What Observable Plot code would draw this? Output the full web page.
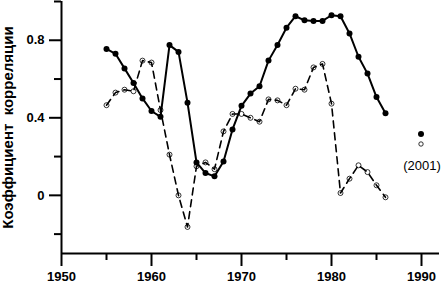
<!DOCTYPE html>
<html><head><meta charset="utf-8">
<script src="https://cdn.jsdelivr.net/npm/d3@7"></script>
<script src="https://cdn.jsdelivr.net/npm/@observablehq/plot@0.6"></script>
<style>
body{margin:0;background:#fff;}
#wrap{position:relative;width:442px;height:286px;}
#legend{position:absolute;left:0;top:0;pointer-events:none;}
</style></head><body><div id="wrap"></div>
<script>
const years = [1955,1956,1957,1958,1959,1960,1961,1962,1963,1964,1965,1966,1967,1968,1969,1970,
  1971,1972,1973,1974,1975,1976,1977,1978,1979,1980,1981,1982,1983,1984,1985,1986];
const seriesSolid = [0.755,0.73,0.655,0.58,0.50,0.435,0.405,0.775,0.74,0.478,0.17,0.115,0.098,0.175,0.34,0.462,
  0.525,0.563,0.695,0.776,0.865,0.924,0.903,0.90,0.90,0.929,0.924,0.835,0.715,0.628,0.507,0.423];
const seriesDashed = [0.465,0.53,0.545,0.537,0.695,0.685,0.44,0.21,0.0,-0.163,0.15,0.17,0.135,0.33,0.42,0.42,
  0.40,0.38,0.495,0.49,0.465,0.55,0.545,0.66,0.678,0.473,0.012,0.086,0.155,0.12,0.052,-0.01];
const xDomain = [1950, 1992];
const yDomain = [-0.3, 1.0];
const xMajorTicks = [1950,1960,1970,1980,1990];
const xMinorTicks = [1955,1965,1975,1985];
const yMajorTicks = [0, 0.4, 0.8];
const yMinorTicks = [-0.2, 0.2, 0.6, 1.0];
const yLabel = "Коэффициент  корреляции";
const legendLabel = "(2001)";

const solid = years.map((y, i) => ({year: y, r: seriesSolid[i]}));
const dashed = years.map((y, i) => ({year: y, r: seriesDashed[i]}));

const plot = Plot.plot({
  width: 442, height: 286,
  marginLeft: 61, marginRight: 3, marginTop: 1, marginBottom: 33,
  style: {fontFamily: "'Liberation Sans', Arial, sans-serif", fontSize: "13px", fontWeight: "bold", color: "#000", background: "#fff"},
  x: {domain: xDomain},
  y: {domain: yDomain},
  marks: [
    Plot.axisX(xMajorTicks, {tickSize: 13, tickPadding: 5, tickFormat: d => String(d), label: null, strokeWidth: 2}),
    Plot.axisX(xMinorTicks, {tickSize: 7, tickFormat: () => "", label: null, strokeWidth: 2}),
    Plot.axisY(yMajorTicks, {tickSize: 12, tickPadding: 5, tickFormat: d => d === 0 ? "0" : d.toFixed(1), label: null, strokeWidth: 2}),
    Plot.axisY(yMinorTicks, {tickSize: 7, tickFormat: () => "", label: null, strokeWidth: 2}),
    Plot.ruleY([yDomain[0]], {strokeWidth: 2}),
    Plot.ruleX([xDomain[0]], {strokeWidth: 2}),
    Plot.text([yLabel], {frameAnchor: "left", textAnchor: "middle", rotate: -90, dx: -53, dy: 0, fontSize: 15, fontWeight: "bold", style: {whiteSpace: "pre"}}),
    Plot.line(dashed, {x: "year", y: "r", stroke: "black", strokeWidth: 1.6, strokeDasharray: "7,5"}),
    Plot.dot(dashed, {x: "year", y: "r", r: 2.5, stroke: "black", strokeWidth: 0.8, fill: "none"}),
    Plot.line(solid, {x: "year", y: "r", stroke: "black", strokeWidth: 2}),
    Plot.dot(solid, {x: "year", y: "r", r: 3, fill: "black", stroke: "none"})
  ]
});
const wrap = document.getElementById("wrap");
wrap.appendChild(plot);
plot.querySelectorAll("text").forEach(t => { if (t.textContent.includes("  ")) t.setAttribute("xml:space", "preserve"); t.style.whiteSpace = "pre"; });

const ns = "http://www.w3.org/2000/svg";
const leg = document.createElementNS(ns, "svg");
leg.setAttribute("id", "legend");
leg.setAttribute("width", 442);
leg.setAttribute("height", 286);
leg.innerHTML = `
  <circle cx="421" cy="134" r="3" fill="black"/>
  <circle cx="421" cy="144" r="2.2" fill="none" stroke="black" stroke-width="0.8"/>
  <text x="422" y="170" text-anchor="middle" font-family="'Liberation Sans', Arial, sans-serif" font-size="13">${legendLabel}</text>`;
wrap.appendChild(leg);
</script></body></html>
